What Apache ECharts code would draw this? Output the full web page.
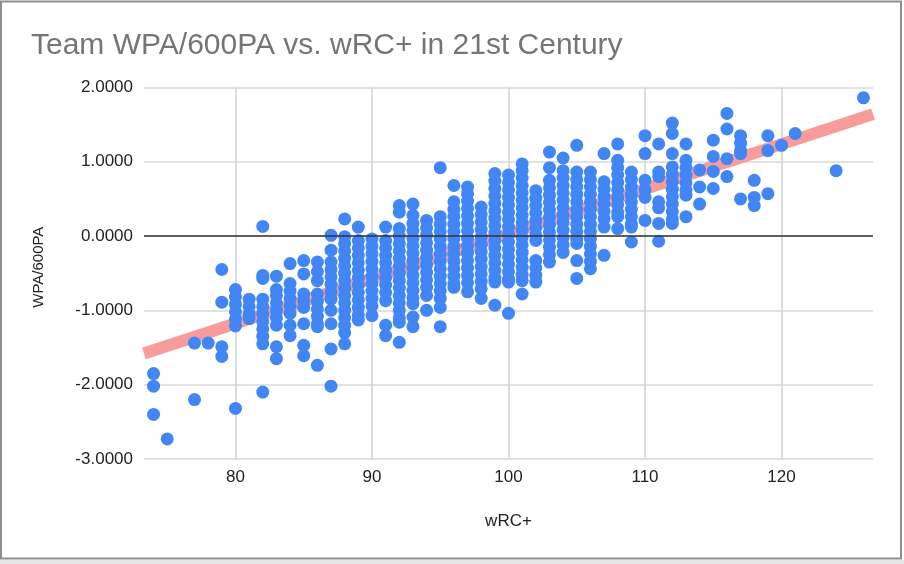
<!DOCTYPE html>
<html>
<head>
<meta charset="utf-8">
<script src="https://cdn.jsdelivr.net/npm/echarts@6/dist/echarts.min.js"></script>
<style>
  html, body { margin: 0; padding: 0; background: #fff; }
  #chart { width: 904px; height: 564px; }
</style>
</head>
<body>
<div id="chart"></div>
<script>
// wRC+ values that have at least one team
const wrcValues = [74, 75, 77, 78, 79, 80, 81, 82, 83, 84, 85, 86, 87, 88, 89, 90, 91, 92, 93, 94, 95,
  96, 97, 98, 99, 100, 101, 102, 103, 104, 105, 106, 107, 108, 109, 110, 111, 112, 113, 114, 115,
  116, 117, 118, 119, 120, 121, 124, 126];

// WPA/600PA of the teams at each wRC+ value (same order as wrcValues)
const wpaByWrc = [
  [-1.85, -2.02, -2.40],
  [-2.73],
  [-1.44, -2.20],
  [-1.44],
  [-0.45, -0.89, -1.49, -1.62],
  [-0.72, -0.82, -0.92, -1.02, -1.12, -1.21, -2.32],
  [-0.85, -0.95, -1.05, -1.11],
  [0.13, -0.53, -0.57, -0.85, -0.95, -1.05, -1.15, -1.25, -1.35, -1.45, -2.10],
  [-0.54, -0.72, -0.80, -0.90, -1.00, -1.10, -1.20, -1.49, -1.65],
  [-0.37, -0.64, -0.74, -0.84, -0.94, -1.04, -1.20, -1.34],
  [-0.33, -0.51, -0.78, -0.87, -0.96, -1.18, -1.47, -1.61],
  [-0.35, -0.48, -0.60, -0.78, -0.88, -0.98, -1.08, -1.18, -1.22, -1.74],
  [0.01, -0.19, -0.35, -0.45, -0.55, -0.65, -0.75, -0.85, -1.00, -1.18, -1.52, -2.02],
  [0.23, -0.01, -0.10, -0.20, -0.30, -0.40, -0.50, -0.60, -0.70, -0.80, -0.90, -1.00, -1.10, -1.20, -1.30, -1.45],
  [0.12, -0.06, -0.16, -0.26, -0.36, -0.46, -0.56, -0.66, -0.76, -0.86, -0.96, -1.06, -1.13],
  [-0.04, -0.14, -0.24, -0.34, -0.44, -0.54, -0.64, -0.74, -0.84, -0.94, -1.07],
  [0.12, -0.06, -0.16, -0.26, -0.36, -0.46, -0.56, -0.66, -0.76, -0.87, -1.20, -1.34],
  [0.41, 0.32, 0.10, 0.00, -0.10, -0.20, -0.30, -0.40, -0.50, -0.60, -0.70, -0.80, -0.90, -1.00, -1.10, -1.16, -1.43],
  [0.43, 0.28, 0.17, 0.07, -0.03, -0.13, -0.23, -0.33, -0.43, -0.53, -0.63, -0.73, -0.83, -0.91, -1.09, -1.22],
  [0.21, 0.11, 0.01, -0.09, -0.19, -0.29, -0.39, -0.49, -0.59, -0.69, -0.80, -1.00],
  [0.92, 0.26, 0.16, 0.06, -0.04, -0.14, -0.24, -0.34, -0.44, -0.54, -0.64, -0.74, -0.84, -0.96, -1.22],
  [0.68, 0.46, 0.36, 0.26, 0.16, 0.06, -0.04, -0.14, -0.24, -0.34, -0.44, -0.54, -0.64, -0.69],
  [0.66, 0.57, 0.47, 0.37, 0.27, 0.17, 0.07, -0.03, -0.13, -0.23, -0.33, -0.43, -0.53, -0.63, -0.75],
  [0.39, 0.29, 0.19, 0.09, -0.01, -0.11, -0.21, -0.31, -0.41, -0.51, -0.61, -0.71, -0.84],
  [0.84, 0.74, 0.64, 0.54, 0.44, 0.34, 0.24, 0.14, 0.04, -0.06, -0.16, -0.26, -0.36, -0.46, -0.56, -0.62, -0.93],
  [0.82, 0.72, 0.62, 0.52, 0.42, 0.32, 0.22, 0.12, 0.02, -0.08, -0.18, -0.28, -0.38, -0.48, -0.58, -0.62, -1.04],
  [0.97, 0.88, 0.78, 0.68, 0.58, 0.48, 0.38, 0.28, 0.18, 0.08, -0.02, -0.12, -0.22, -0.32, -0.42, -0.52, -0.60, -0.78],
  [0.61, 0.51, 0.41, 0.31, 0.21, 0.11, 0.01, -0.06, -0.33, -0.43, -0.53, -0.62],
  [1.13, 0.92, 0.75, 0.65, 0.55, 0.45, 0.35, 0.25, 0.15, 0.05, -0.05, -0.15, -0.25, -0.35],
  [1.05, 0.88, 0.78, 0.68, 0.58, 0.48, 0.38, 0.28, 0.18, 0.08, -0.02, -0.12, -0.22],
  [1.22, 0.86, 0.76, 0.66, 0.56, 0.46, 0.36, 0.26, 0.16, 0.06, -0.04, -0.10, -0.33, -0.57],
  [0.86, 0.76, 0.66, 0.56, 0.46, 0.36, 0.26, 0.16, 0.06, -0.04, -0.14, -0.24, -0.34, -0.44],
  [1.11, 0.73, 0.63, 0.53, 0.43, 0.33, 0.23, 0.12, -0.26],
  [1.24, 1.02, 0.92, 0.82, 0.72, 0.62, 0.52, 0.42, 0.32, 0.26, 0.10],
  [0.86, 0.76, 0.66, 0.56, 0.46, 0.36, 0.26, 0.16, 0.12, -0.08],
  [1.35, 1.11, 0.75, 0.62, 0.52, 0.21],
  [1.24, 0.86, 0.80, 0.46, 0.38, 0.17, -0.07],
  [1.52, 1.38, 1.11, 0.93, 0.83, 0.73, 0.63, 0.53, 0.43, 0.33, 0.23, 0.17],
  [1.24, 1.02, 0.92, 0.82, 0.72, 0.62, 0.55, 0.26],
  [0.89, 0.66, 0.43],
  [1.29, 1.07, 0.87, 0.64],
  [1.65, 1.44, 1.04, 0.80],
  [1.35, 1.25, 1.15, 1.11, 0.50],
  [0.75, 0.52, 0.41],
  [1.35, 1.15, 0.57],
  [1.22],
  [1.38],
  [0.88],
  [1.86]
];

// trendline ends, read at the plot edges
const trendX = [73.3, 126.7];
const trendY = [-1.58, 1.64];

var points = [];
wrcValues.forEach(function (w, i) {
  wpaByWrc[i].forEach(function (v) {
    points.push([w, v]);
  });
});

var trendData = trendX.map(function (x, i) { return [x, trendY[i]]; });

var chart = echarts.init(document.getElementById('chart'));

var option = {
  animation: false,
  backgroundColor: '#fff',
  title: {
    text: 'Team WPA/600PA vs. wRC+ in 21st Century',
    left: 26,
    top: 26,
    textStyle: {
      fontFamily: 'Liberation Sans, Arial, sans-serif',
      fontSize: 30,
      fontWeight: 'normal',
      color: '#757575'
    }
  },
  grid: {
    left: 144,
    right: 31,
    top: 87.4,
    bottom: 105
  },
  xAxis: {
    type: 'value',
    min: 73.3,
    max: 126.7,
    splitNumber: 5,
    name: 'wRC+',
    nameLocation: 'middle',
    nameGap: 54,
    nameTextStyle: { color: '#222', fontSize: 17, fontFamily: 'Liberation Sans, Arial, sans-serif' },
    axisLine: { show: false },
    axisTick: { show: false },
    axisLabel: {
      showMinLabel: false,
      showMaxLabel: false,
      margin: 10,
      color: '#222',
      fontSize: 17,
      fontFamily: 'Liberation Sans, Arial, sans-serif'
    },
    splitLine: {
      show: true,
      showMinLine: false,
      showMaxLine: false,
      lineStyle: { color: '#d0d0d0', width: 1.5 }
    }
  },
  yAxis: {
    type: 'value',
    min: -3,
    max: 2,
    interval: 1,
    name: 'WPA/600PA',
    nameLocation: 'middle',
    nameGap: 98,
    nameTextStyle: {
      color: '#222',
      fontSize: 15,
      padding: [0, 0, 0, 12],
      fontFamily: 'Liberation Sans, Arial, sans-serif'
    },
    axisLine: { show: false },
    axisTick: { show: false },
    axisLabel: {
      margin: 11,
      color: '#222',
      fontSize: 17,
      fontFamily: 'Liberation Sans, Arial, sans-serif',
      formatter: function (v) { return v.toFixed(4); }
    },
    splitLine: {
      lineStyle: { color: '#d9d9d9', width: 1.5 }
    }
  },
  series: [
    {
      type: 'line',
      data: trendData,
      symbol: 'none',
      z: 1,
      silent: true,
      lineStyle: { color: '#f89b9b', width: 12, cap: 'butt' },
      markLine: {
        silent: true,
        symbol: 'none',
        label: { show: false },
        lineStyle: { color: '#333', width: 1.5, type: 'solid' },
        data: [{ yAxis: 0 }]
      }
    },
    {
      type: 'scatter',
      data: points,
      symbol: 'circle',
      symbolSize: 13,
      z: 3,
      itemStyle: { color: '#4285f4', opacity: 1 }
    }
  ],
  graphic: [
    {
      type: 'rect',
      shape: { x: 1, y: 1.5, width: 900, height: 557 },
      style: { fill: 'none', stroke: '#8f8f8f', lineWidth: 2 },
      silent: true
    },
    {
      type: 'rect',
      shape: { x: 0, y: 560, width: 904, height: 4 },
      style: { fill: '#e6e6e6' },
      silent: true
    }
  ]
};

chart.setOption(option);
</script>
</body>
</html>
